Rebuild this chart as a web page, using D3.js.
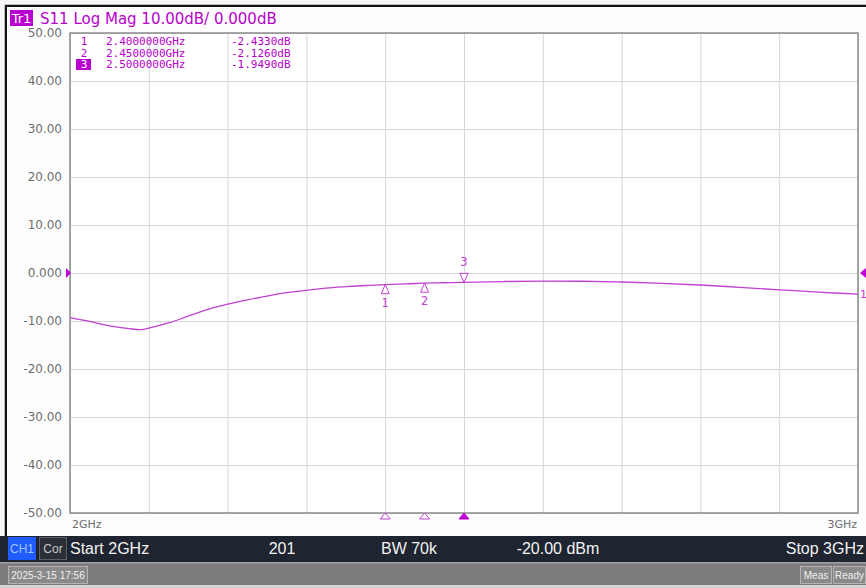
<!DOCTYPE html>
<html>
<head>
<meta charset="utf-8">
<script src="https://cdn.jsdelivr.net/npm/d3@7"></script>
<style>
  body { margin: 0; background: #f4f4f4; }
  svg { display: block; }
</style>
</head>
<body>
<div id="chart"></div>
<script>
// S11 trace (GHz, dB)
var freqs = [2.000, 2.025, 2.050, 2.075, 2.090, 2.100, 2.125, 2.150, 2.175, 2.200,
             2.225, 2.250, 2.275, 2.300, 2.325, 2.350, 2.375, 2.400, 2.425, 2.450,
             2.475, 2.500, 2.550, 2.600, 2.650, 2.700, 2.750, 2.800, 2.850, 2.900,
             2.950, 3.000];
var s11 = [-9.3, -10.1, -11.0, -11.6, -11.8, -11.5, -10.4, -9.0, -7.6, -6.5,
           -5.6, -4.8, -4.1, -3.6, -3.15, -2.85, -2.6, -2.433, -2.28, -2.126,
           -2.03, -1.949, -1.78, -1.70, -1.72, -1.88, -2.15, -2.5, -3.0, -3.5,
           -4.0, -4.4];

var markerIds = ["1", "2", "3"];
var markerFreqs = [2.4, 2.45, 2.5];
var markerVals = [-2.433, -2.126, -1.949];
var markerFreqLabels = ["2.4000000GHz", "2.4500000GHz", "2.5000000GHz"];
var markerValLabels = ["-2.4330dB", "-2.1260dB", "-1.9490dB"];

var yTicks = [50, 40, 30, 20, 10, 0, -10, -20, -30, -40, -50];
var yTickLabels = ["50.00", "40.00", "30.00", "20.00", "10.00", "0.000",
                   "-10.00", "-20.00", "-30.00", "-40.00", "-50.00"];
var xTicks = [2.0, 2.1, 2.2, 2.3, 2.4, 2.5, 2.6, 2.7, 2.8, 2.9, 3.0];

var statusTexts = ["Start 2GHz", "201", "BW 70k", "-20.00 dBm", "Stop 3GHz"];

var svgWidth = 866, svgHeight = 588;
var margin = { top: 33, right: 8, bottom: 75, left: 70 };
var width = svgWidth - margin.left - margin.right;
var height = 480;

var trace = "#c040d0";
var magenta = "#b800cc";
var font = "DejaVu Sans, sans-serif";

var svg = d3.select("#chart")
  .append("svg")
  .attr("width", svgWidth)
  .attr("height", svgHeight);

// screen panel and black border
svg.append("rect").attr("x", 0).attr("y", 0).attr("width", svgWidth).attr("height", 536).attr("fill", "#f7f7f7");
svg.append("path").attr("d", "M6,536 V6 H866").attr("fill", "none").attr("stroke", "#111").attr("stroke-width", 2.5);
svg.append("rect").attr("x", 7).attr("y", 7).attr("width", 859).attr("height", 529).attr("fill", "#fdfdfd");

var xScale = d3.scaleLinear().domain([2, 3]).range([0, width]);
var yScale = d3.scaleLinear().domain([-50, 50]).range([height, 0]);

var chartGroup = svg.append("g")
  .attr("transform", `translate(${margin.left}, ${margin.top})`);

chartGroup.append("rect")
  .attr("width", width).attr("height", height)
  .attr("fill", "#ffffff");

// grid
chartGroup.append("g")
  .call(d3.axisBottom(xScale).tickValues(xTicks).tickSize(height).tickFormat(""))
  .call(g => g.select(".domain").remove())
  .call(g => g.selectAll("line").attr("stroke", "#d6d6d6"));

chartGroup.append("g")
  .call(d3.axisLeft(yScale).tickValues(yTicks).tickSize(-width).tickFormat(""))
  .call(g => g.select(".domain").remove())
  .call(g => g.selectAll("line").attr("stroke", "#d6d6d6"));

chartGroup.append("rect")
  .attr("width", width).attr("height", height)
  .attr("fill", "none").attr("stroke", "#8a8a8a").attr("stroke-width", 1.5);

// y labels
chartGroup.append("g")
  .call(d3.axisLeft(yScale).tickValues(yTicks).tickSize(0).tickPadding(8)
    .tickFormat((d, i) => yTickLabels[i]))
  .call(g => g.select(".domain").remove())
  .call(g => g.selectAll("text").attr("font-family", font).attr("font-size", "12px").attr("fill", "#6e6e6e"));

// x end labels
chartGroup.append("text").attr("x", 2).attr("y", height + 15)
  .attr("font-family", font).attr("font-size", "11px").attr("fill", "#6e6e6e").text("2GHz");
chartGroup.append("text").attr("x", width - 1).attr("y", height + 15).attr("text-anchor", "end")
  .attr("font-family", font).attr("font-size", "11px").attr("fill", "#6e6e6e").text("3GHz");

// trace
var points = freqs.map((f, i) => [f, s11[i]]);
var line = d3.line()
  .x(d => xScale(d[0]))
  .y(d => yScale(d[1]))
  .curve(d3.curveCatmullRom);

chartGroup.append("path")
  .datum(points)
  .attr("d", line)
  .attr("fill", "none")
  .attr("stroke", trace)
  .attr("stroke-width", 1.3);

// markers on trace
markerFreqs.forEach(function(f, i) {
  var mx = xScale(f), my = yScale(markerVals[i]);
  var active = i === 2;
  if (active) {
    chartGroup.append("path")
      .attr("d", `M${mx},${my} L${mx - 4},${my - 9} L${mx + 4},${my - 9} Z`)
      .attr("fill", "#fff").attr("stroke", trace).attr("stroke-width", 1);
    chartGroup.append("text").attr("x", mx).attr("y", my - 16).attr("text-anchor", "middle")
      .attr("font-family", font).attr("font-size", "11.5px").attr("fill", trace).text(markerIds[i]);
  } else {
    chartGroup.append("path")
      .attr("d", `M${mx},${my} L${mx - 4},${my + 9} L${mx + 4},${my + 9} Z`)
      .attr("fill", "#fff").attr("stroke", trace).attr("stroke-width", 1);
    chartGroup.append("text").attr("x", mx).attr("y", my + 22).attr("text-anchor", "middle")
      .attr("font-family", font).attr("font-size", "11.5px").attr("fill", trace).text(markerIds[i]);
  }
  // stimulus markers on bottom edge
  chartGroup.append("path")
    .attr("d", `M${mx},${height} L${mx - 5},${height + 6} L${mx + 5},${height + 6} Z`)
    .attr("fill", active ? "#c000d8" : "#fff")
    .attr("stroke", active ? "#c000d8" : trace).attr("stroke-width", 1);
});

// reference level arrows
chartGroup.append("path")
  .attr("d", `M-4,${yScale(0) - 5} L1,${yScale(0)} L-4,${yScale(0) + 5} Z`)
  .attr("fill", "#c000d8");
chartGroup.append("path")
  .attr("d", `M${width + 8},${yScale(0) - 5} L${width + 2},${yScale(0)} L${width + 8},${yScale(0) + 5} Z`)
  .attr("fill", "#c000d8");
chartGroup.append("text").attr("x", width + 2).attr("y", yScale(s11[s11.length - 1]) + 4)
  .attr("font-family", font).attr("font-size", "11px").attr("fill", trace).text("1");

// header
svg.append("rect").attr("x", 10).attr("y", 10).attr("width", 23).attr("height", 16).attr("fill", "#b800d0");
svg.append("text").attr("x", 21.5).attr("y", 23).attr("text-anchor", "middle")
  .attr("font-family", font).attr("font-size", "13px").attr("fill", "#fff").text("Tr1");
svg.append("text").attr("x", 40).attr("y", 23.5)
  .attr("font-family", font).attr("font-size", "15px").attr("fill", magenta)
  .text("S11 Log Mag 10.00dB/ 0.000dB");

// marker table
var table = svg.append("g")
  .attr("font-family", "DejaVu Sans Mono, monospace")
  .attr("font-size", "11px")
  .attr("fill", magenta);
markerIds.forEach(function(id, i) {
  var ty = 45 + i * 11.5;
  if (i === 2) {
    table.append("rect").attr("x", 76).attr("y", ty - 9).attr("width", 15).attr("height", 11).attr("fill", "#b800d0");
  }
  table.append("text").attr("x", 84).attr("y", ty).attr("text-anchor", "middle")
    .attr("fill", i === 2 ? "#fff" : magenta).text(id);
  table.append("text").attr("x", 106).attr("y", ty).text(markerFreqLabels[i]);
  table.append("text").attr("x", 231).attr("y", ty).text(markerValLabels[i]);
});

// status bar
svg.append("rect").attr("x", 0).attr("y", 536).attr("width", svgWidth).attr("height", 26).attr("fill", "#1e2430");
svg.append("rect").attr("x", 8).attr("y", 537).attr("width", 28).attr("height", 23).attr("fill", "#1f5bff");
svg.append("text").attr("x", 22).attr("y", 553).attr("text-anchor", "middle")
  .attr("font-family", "Liberation Sans, Arial, sans-serif").attr("font-size", "12px").attr("fill", "#9fc4ff").text("CH1");
svg.append("rect").attr("x", 39.5).attr("y", 537.5).attr("width", 27).attr("height", 22)
  .attr("fill", "#2a2f38").attr("stroke", "#5a5f68");
svg.append("text").attr("x", 53).attr("y", 553).attr("text-anchor", "middle")
  .attr("font-family", "Liberation Sans, Arial, sans-serif").attr("font-size", "12px").attr("fill", "#c8c8c8").text("Cor");

var statusX = [70, 282, 409, 558, 864];
var statusAnchor = ["start", "middle", "middle", "middle", "end"];
statusTexts.forEach(function(t, i) {
  svg.append("text").attr("x", statusX[i]).attr("y", 554)
    .attr("text-anchor", statusAnchor[i])
    .attr("font-family", "Liberation Sans, Arial, sans-serif").attr("font-size", "16px")
    .attr("fill", "#f2f2f2").text(t);
});

// bottom gray bar
svg.append("rect").attr("x", 0).attr("y", 562).attr("width", svgWidth).attr("height", 23).attr("fill", "#7c7c7c");
svg.append("rect").attr("x", 0).attr("y", 562).attr("width", svgWidth).attr("height", 1.5).attr("fill", "#a0a0a0");
svg.append("rect").attr("x", 0).attr("y", 585).attr("width", svgWidth).attr("height", 3).attr("fill", "#d4d4d4");

var buttons = [
  { x: 8, w: 79, t: "2025-3-15 17:56" },
  { x: 800, w: 31, t: "Meas" },
  { x: 833, w: 32, t: "Ready" }
];
buttons.forEach(function(b) {
  svg.append("rect").attr("x", b.x + 0.5).attr("y", 566.5).attr("width", b.w).attr("height", 17)
    .attr("fill", "#8a8a8a").attr("stroke", "#b4b4b4");
  svg.append("text").attr("x", b.x + b.w / 2 + 0.5).attr("y", 579).attr("text-anchor", "middle")
    .attr("font-family", "Liberation Sans, Arial, sans-serif").attr("font-size", "10px")
    .attr("fill", "#f0f0f0").text(b.t);
});
</script>
</body>
</html>
